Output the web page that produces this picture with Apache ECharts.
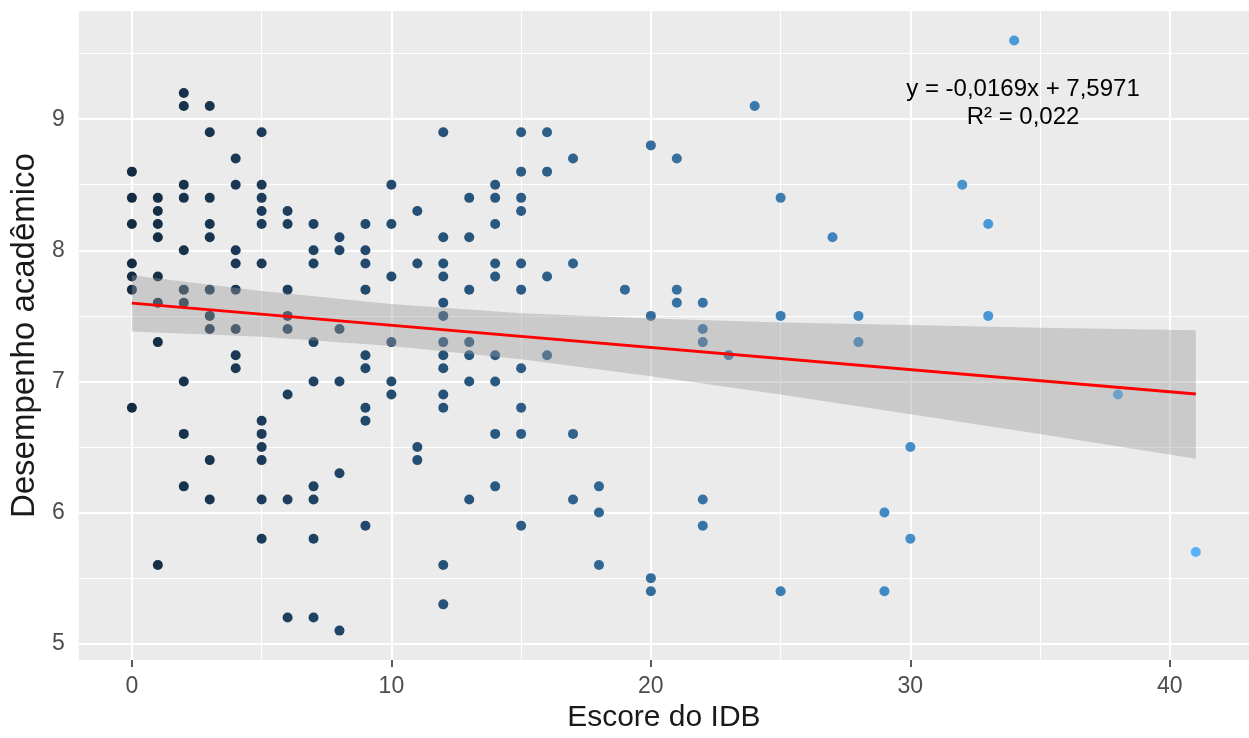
<!DOCTYPE html>
<html>
<head>
<meta charset="utf-8">
<title>Desempenho acadêmico x Escore do IDB</title>
<script src="https://cdn.jsdelivr.net/npm/echarts@6/dist/echarts.min.js"></script>
<style>
  html, body { margin: 0; padding: 0; background: #ffffff; }
  #chart { width: 1249px; height: 738px; }
</style>
</head>
<body>
<div id="chart"></div>
<script>
// Escore do IDB (x) and academic performance (y) for each student, grouped by score
const escoreIDB = [
  0, 0, 0, 0, 0, 0, 0,
  1, 1, 1, 1, 1, 1, 1, 1,
  2, 2, 2, 2, 2, 2, 2, 2, 2, 2,
  3, 3, 3, 3, 3, 3, 3, 3, 3, 3,
  4, 4, 4, 4, 4, 4, 4, 4,
  5, 5, 5, 5, 5, 5, 5, 5, 5, 5, 5, 5,
  6, 6, 6, 6, 6, 6, 6, 6,
  7, 7, 7, 7, 7, 7, 7, 7, 7,
  8, 8, 8, 8, 8, 8,
  9, 9, 9, 9, 9, 9, 9, 9, 9,
  10, 10, 10, 10, 10, 10,
  11, 11, 11, 11,
  12, 12, 12, 12, 12, 12, 12, 12, 12, 12, 12, 12, 12,
  13, 13, 13, 13, 13, 13, 13,
  14, 14, 14, 14, 14, 14, 14, 14, 14,
  15, 15, 15, 15, 15, 15, 15, 15, 15, 15,
  16, 16, 16, 16,
  17, 17, 17, 17,
  18, 18, 18,
  19,
  20, 20, 20, 20,
  21, 21, 21,
  22, 22, 22, 22, 22,
  23,
  24,
  25, 25, 25,
  27,
  28, 28,
  29, 29,
  30, 30,
  32,
  33, 33,
  34,
  38,
  41
];
const desempenho = [
  8.6, 8.4, 8.2, 7.9, 7.8, 7.7, 6.8,
  8.4, 8.3, 8.2, 8.1, 7.8, 7.6, 7.3, 5.6,
  9.2, 9.1, 8.5, 8.4, 8.0, 7.7, 7.6, 7.0, 6.6, 6.2,
  9.1, 8.9, 8.4, 8.2, 8.1, 7.7, 7.5, 7.4, 6.4, 6.1,
  8.7, 8.5, 8.0, 7.9, 7.7, 7.4, 7.2, 7.1,
  8.9, 8.5, 8.4, 8.3, 8.2, 7.9, 6.7, 6.6, 6.5, 6.4, 6.1, 5.8,
  8.3, 8.2, 7.7, 7.5, 7.4, 6.9, 6.1, 5.2,
  8.2, 8.0, 7.9, 7.3, 7.0, 6.2, 6.1, 5.8, 5.2,
  8.1, 8.0, 7.4, 7.0, 6.3, 5.1,
  8.2, 8.0, 7.9, 7.7, 7.2, 7.1, 6.8, 6.7, 5.9,
  8.5, 8.2, 7.8, 7.3, 7.0, 6.9,
  8.3, 7.9, 6.5, 6.4,
  8.9, 8.1, 7.9, 7.8, 7.6, 7.5, 7.3, 7.2, 7.1, 6.9, 6.8, 5.6, 5.3,
  8.4, 8.1, 7.7, 7.3, 7.2, 7.0, 6.1,
  8.5, 8.4, 8.2, 7.9, 7.8, 7.2, 7.0, 6.6, 6.2,
  8.9, 8.6, 8.4, 8.3, 7.9, 7.7, 7.1, 6.8, 6.6, 5.9,
  8.9, 8.6, 7.8, 7.2,
  8.7, 7.9, 6.6, 6.1,
  6.2, 6.0, 5.6,
  7.7,
  8.8, 7.5, 5.5, 5.4,
  8.7, 7.7, 7.6,
  7.6, 7.4, 7.3, 6.1, 5.9,
  7.2,
  9.1,
  8.4, 7.5, 5.4,
  8.1,
  7.5, 7.3,
  6.0, 5.4,
  6.5, 5.8,
  8.5,
  8.2, 7.5,
  9.6,
  6.9,
  5.7
];

// Fitted linear trend, as printed on the chart
const trendSlope = -0.0169;
const trendIntercept = 7.5971;
const trendRange = [0, 41];

// 95% confidence band around the trend line
const bandX     = [0,    5,    10,   15,   20,   25,   30,   35,   41];
const bandLower = [7.38, 7.34, 7.27, 7.17, 7.04, 6.90, 6.75, 6.60, 6.41];
const bandUpper = [7.81, 7.69, 7.59, 7.52, 7.48, 7.45, 7.43, 7.41, 7.39];

// Axis ticks and grid lines
const xMajor = [0, 10, 20, 30, 40];
const xMinor = [5, 15, 25, 35];
const yMajor = [5, 6, 7, 8, 9];
const yMinor = [5.5, 6.5, 7.5, 8.5, 9.5];

const equationText = 'y = -0,0169x + 7,5971';
const r2Text = 'R² = 0,022';

const points = escoreIDB.map((x, i) => [x, desempenho[i]]);
const trendData = trendRange.map(x => [x, trendIntercept + trendSlope * x]);
const bandData = bandX.map((x, i) => [x, bandLower[i], bandUpper[i]]);

const gridLines = [].concat(
  xMajor.map(v => ({ xAxis: v, lineStyle: { width: 2.2 } })),
  xMinor.map(v => ({ xAxis: v, lineStyle: { width: 1.1 } })),
  yMajor.map(v => ({ yAxis: v, lineStyle: { width: 2.2 } })),
  yMinor.map(v => ({ yAxis: v, lineStyle: { width: 1.1 } }))
);

// Band polygon: upper edge left to right, then lower edge right to left
function renderBand(params, api) {
  if (params.dataIndex !== 0) return null;
  const pts = [];
  for (let i = 0; i < bandData.length; i++) {
    pts.push(api.coord([bandData[i][0], bandData[i][2]]));
  }
  for (let i = bandData.length - 1; i >= 0; i--) {
    pts.push(api.coord([bandData[i][0], bandData[i][1]]));
  }
  return {
    type: 'polygon',
    shape: { points: pts },
    style: { fill: '#999999', opacity: 0.4 }
  };
}

const FONT = '"Liberation Sans", Arial, sans-serif';

const chart = echarts.init(document.getElementById('chart'), null, { renderer: 'canvas' });

chart.setOption({
  animation: false,
  backgroundColor: '#ffffff',
  grid: {
    left: 77,
    top: 11,
    width: 1177,
    height: 651,
    show: true,
    backgroundColor: '#EBEBEB',
    borderWidth: 0
  },
  xAxis: {
    type: 'value',
    min: -2.05,
    max: 43.05,
    name: 'Escore do IDB',
    nameLocation: 'middle',
    nameGap: 42,
    nameTextStyle: { fontFamily: FONT, fontSize: 30, color: '#1a1a1a' },
    axisLine: { show: false },
    axisTick: {
      show: true,
      customValues: xMajor,
      length: 7,
      lineStyle: { color: '#333333', width: 1.6 }
    },
    axisLabel: {
      customValues: xMajor,
      margin: 15,
      fontFamily: FONT,
      fontSize: 23,
      color: '#4D4D4D'
    },
    splitLine: { show: false }
  },
  yAxis: {
    type: 'value',
    min: 4.875,
    max: 9.825,
    name: 'Desempenho acadêmico',
    nameLocation: 'middle',
    nameGap: 36,
    nameTextStyle: { fontFamily: FONT, fontSize: 33, color: '#1a1a1a' },
    axisLine: { show: false },
    axisTick: {
      show: true,
      customValues: yMajor,
      length: 7,
      lineStyle: { color: '#333333', width: 1.6 }
    },
    axisLabel: {
      customValues: yMajor,
      margin: 14,
      fontFamily: FONT,
      fontSize: 23,
      color: '#4D4D4D'
    },
    splitLine: { show: false }
  },
  visualMap: {
    type: 'continuous',
    show: false,
    seriesIndex: 1,
    dimension: 0,
    min: 0,
    max: 41,
    inRange: { color: ['#132B43', '#56B1F7'] }
  },
  series: [
    {
      // panel grid lines, kept beneath every mark
      type: 'line',
      z: 1,
      data: [],
      silent: true,
      markLine: {
        z: 1,
        silent: true,
        symbol: ['none', 'none'],
        label: { show: false },
        lineStyle: { color: '#ffffff', type: 'solid' },
        emphasis: { disabled: true },
        data: gridLines
      }
    },
    {
      type: 'scatter',
      z: 3,
      symbol: 'circle',
      symbolSize: 10,
      itemStyle: { opacity: 1 },
      data: points,
      silent: true
    },
    {
      type: 'custom',
      z: 4,
      data: bandData,
      encode: { x: 0, y: [1, 2] },
      renderItem: renderBand,
      silent: true
    },
    {
      type: 'line',
      z: 5,
      data: trendData,
      symbol: 'none',
      lineStyle: { color: '#FF0000', width: 2.8 },
      silent: true
    }
  ],
  graphic: [
    {
      type: 'text',
      x: 1023,
      y: 89,
      z: 10,
      style: {
        text: equationText,
        textAlign: 'center',
        textVerticalAlign: 'middle',
        font: '24px "Liberation Sans", Arial, sans-serif',
        fill: '#000000'
      }
    },
    {
      type: 'text',
      x: 1023,
      y: 117,
      z: 10,
      style: {
        text: r2Text,
        textAlign: 'center',
        textVerticalAlign: 'middle',
        font: '24px "Liberation Sans", Arial, sans-serif',
        fill: '#000000'
      }
    }
  ]
});
</script>
</body>
</html>
